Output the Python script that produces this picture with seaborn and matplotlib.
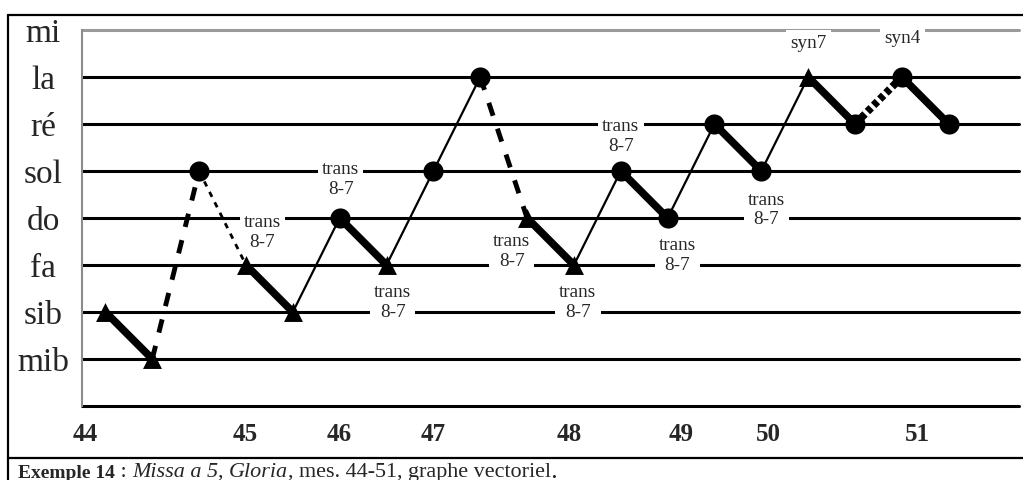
import matplotlib
matplotlib.use('Agg')
import matplotlib.pyplot as plt
import matplotlib.lines as mlines
import seaborn as sns
import pandas as pd

# pitch levels, bottom to top (level 0 has no name)
levels = ['', 'mib', 'sib', 'fa', 'do', 'sol', 'ré', 'la', 'mi']

# successive notes of the vector graph
notes = ['sib', 'mib', 'sol', 'fa', 'sib', 'do', 'fa', 'sol', 'la', 'do',
         'fa', 'sol', 'do', 'ré', 'sol', 'la', 'ré', 'la', 'ré']
shapes = ['tri', 'tri', 'circ', 'tri', 'tri', 'circ', 'tri', 'circ', 'circ', 'tri',
          'tri', 'circ', 'circ', 'circ', 'circ', 'tri', 'circ', 'circ', 'circ']
# kind of link between note i and note i+1
links = ['thick', 'dash', 'dot', 'thick', 'thin', 'thick', 'thin', 'thin', 'dash',
         'thick', 'thin', 'thick', 'thin', 'thick', 'thin', 'thick', 'sqdot', 'thick']

# bar numbers under the graph
measures = ['44', '45', '46', '47', '48', '49', '50', '51']
measure_pos = [0.57, 3.99, 6.0, 8.0, 10.89, 13.28, 15.14, 18.34]

# text notes on the graph
ann_text = ['trans\n8-7'] * 8 + ['syn7', 'syn4']
ann_x = [4.35, 6.02, 7.13, 9.67, 11.08, 12.0, 13.21, 15.11, 16.01, 18.02]
ann_y = [3.70, 4.81, 2.21, 3.28, 2.21, 5.74, 3.21, 4.17, 7.72, 7.81]

caption = [('Exemple 14', 'bold', 'normal'),
           (' : ', 'normal', 'normal'),
           ('Missa a 5', 'normal', 'italic'),
           (', ', 'normal', 'normal'),
           ('Gloria', 'normal', 'italic'),
           (', mes. 44-51, graphe vectoriel', 'normal', 'normal'),
           ('.', 'bold', 'normal')]

link_style = {
    'thick': dict(lw=5.5, ls='-'),
    'thin': dict(lw=1.6, ls='-'),
    'dash': dict(lw=3.5, ls=(0, (2.8, 2.8))),
    'dot': dict(lw=2.0, ls=(0, (2.0, 2.2))),
    'sqdot': dict(lw=5.5, ls=(0, (0.7, 0.45))),
}

sns.set_style('white')
plt.rcParams['font.family'] = ['Liberation Serif', 'DejaVu Serif']

df = pd.DataFrame({'pos': range(1, len(notes) + 1),
                   'level': [levels.index(n) for n in notes],
                   'shape': shapes})

fig = plt.figure(figsize=(10.23, 4.8), dpi=100)
ax = fig.add_axes([82 / 1023, 74 / 480, 937 / 1023, 376 / 480])
ax.set_xlim(0.5, 20.5)
ax.set_ylim(0, len(levels) - 1)

# staff lines
for k in range(len(levels)):
    ax.axhline(k, color='#9a9a9a' if k == len(levels) - 1 else 'black',
               lw=2.2, zorder=1, clip_on=False)

# links between notes
for i, kind in enumerate(links):
    seg = df.iloc[i:i + 2]
    ax.plot(seg['pos'], seg['level'], color='black', zorder=3,
            solid_capstyle='butt', dash_capstyle='butt', **link_style[kind])

# notes
sns.scatterplot(data=df[df['shape'] == 'circ'], x='pos', y='level', marker='o',
                s=210, color='black', edgecolor='black', linewidth=0, zorder=4, ax=ax)
sns.scatterplot(data=df[df['shape'] == 'tri'], x='pos', y='level', marker='^',
                s=185, color='black', edgecolor='black', linewidth=0, zorder=4, ax=ax)

for t, x, y in zip(ann_text, ann_x, ann_y):
    ax.text(x, y, t, ha='center', va='center', fontsize=13.8, linespacing=1.22,
            bbox=dict(facecolor='white', edgecolor='none', pad=3), zorder=2)

for m, p in zip(measures, measure_pos):
    ax.text(p, -0.6, m, ha='center', va='center', fontsize=18,
            fontweight='bold', clip_on=False)

for s in ['top', 'right', 'bottom']:
    ax.spines[s].set_visible(False)
ax.spines['left'].set_color('#8c8c8c')
ax.spines['left'].set_linewidth(1.5)
ax.set_xticks([])
ax.set_yticks(range(len(levels)))
ax.set_yticklabels(levels, fontsize=24, ha='center')
ax.tick_params(axis='y', length=4, width=1, color='#8c8c8c', pad=24)
ax.set_xlabel('')
ax.set_ylabel('')

# outer frame and caption box
x0, ytop, ysep = 8 / 1023, 1 - 15 / 480, 1 - 458 / 480
fig.add_artist(mlines.Line2D([x0, 1], [ytop, ytop], color='black', lw=1.6))
fig.add_artist(mlines.Line2D([x0, x0], [0, ytop], color='black', lw=1.6))
fig.add_artist(mlines.Line2D([x0, 1], [ysep, ysep], color='black', lw=1.6))

# caption written piece by piece, each one after the previous
last = None
for txt, weight, style in caption:
    size = 14 if weight == 'bold' else 15.9
    if last is None:
        last = fig.text(18 / 1023, -2 / 480, txt, fontsize=size,
                        fontweight=weight, fontstyle=style, ha='left', va='bottom')
    else:
        last = ax.annotate(txt, xy=(1, 0), xycoords=last, ha='left', va='bottom',
                           fontsize=size, fontweight=weight, fontstyle=style,
                           annotation_clip=False)

fig.savefig('out.png', dpi=100)
